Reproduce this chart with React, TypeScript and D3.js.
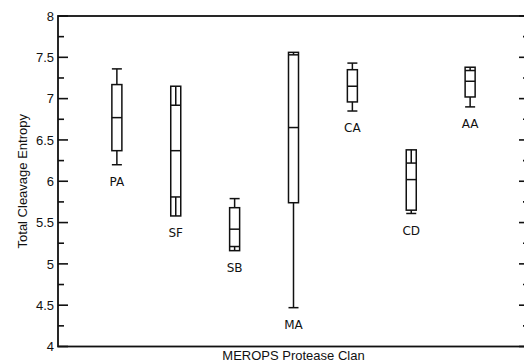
import React, { useEffect, useRef } from 'react';
import * as d3 from 'd3';

// protease clans, in plot order
const clans = ['PA', 'SF', 'SB', 'MA', 'CA', 'CD', 'AA'];
// box edges, whisker ends and medians (cleavage entropy)
const boxLow = [6.37, 5.58, 5.16, 5.74, 6.96, 5.65, 7.02];
const boxHigh = [7.17, 7.15, 5.68, 7.56, 7.35, 6.38, 7.38];
const whiskerLow = [6.2, 5.81, 5.21, 4.47, 6.85, 5.61, 6.9];
const whiskerHigh = [7.36, 6.92, 5.79, 7.53, 7.43, 6.22, 7.34];
const medians = [6.77, 6.37, 5.42, 6.65, 7.15, 6.02, 7.21];
const majorTicks = [4, 4.5, 5, 5.5, 6, 6.5, 7, 7.5, 8];

function App() {
  const ref = useRef<SVGSVGElement>(null);

  useEffect(() => {
    const svg = d3.select(ref.current);
    svg.selectAll('*').remove();

    const w = 524,
      h = 362;
    const x = d3.scaleLinear().domain([-1, 7]).range([58, 529]);
    const y = d3.scaleLinear().domain([4, 8]).range([346.5, 16]);
    const half = x(0.085) - x(0);
    const ink = '#111';

    // frame
    svg.append('rect')
      .attr('x', x(-1))
      .attr('y', y(8))
      .attr('width', x(7) - x(-1))
      .attr('height', y(4) - y(8))
      .attr('fill', 'none')
      .attr('stroke', ink)
      .attr('stroke-width', 1.8);

    // ticks, major and minor, on both sides
    const minor = d3.range(4.25, 8, 0.5);
    const g = svg.append('g').attr('stroke', ink).attr('stroke-width', 1.6);
    majorTicks.forEach((t) => {
      g.append('line').attr('x1', x(-1)).attr('x2', x(-1) + 10).attr('y1', y(t)).attr('y2', y(t));
      g.append('line').attr('x1', x(7)).attr('x2', x(7) - 10).attr('y1', y(t)).attr('y2', y(t));
    });
    minor.forEach((t) => {
      g.append('line').attr('x1', x(-1)).attr('x2', x(-1) + 6).attr('y1', y(t)).attr('y2', y(t));
      g.append('line').attr('x1', x(7)).attr('x2', x(7) - 6).attr('y1', y(t)).attr('y2', y(t));
    });

    svg.append('g')
      .selectAll('text')
      .data(majorTicks)
      .enter()
      .append('text')
      .attr('x', x(-1) - 4)
      .attr('y', (d) => y(d))
      .attr('dy', '0.36em')
      .attr('text-anchor', 'end')
      .attr('font-family', 'Liberation Sans, Arial, sans-serif')
      .attr('font-size', 13)
      .attr('fill', ink)
      .text((d) => String(d));

    // axis titles
    svg.append('text')
      .attr('x', (x(-1) + x(7)) / 2)
      .attr('y', 360)
      .attr('text-anchor', 'middle')
      .attr('font-family', 'Liberation Sans, Arial, sans-serif')
      .attr('font-size', 13)
      .attr('fill', ink)
      .text('MEROPS Protease Clan');

    svg.append('text')
      .attr('transform', `translate(27,${(y(4) + y(8)) / 2}) rotate(-90)`)
      .attr('text-anchor', 'middle')
      .attr('font-family', 'Liberation Sans, Arial, sans-serif')
      .attr('font-size', 13)
      .attr('fill', ink)
      .text('Total Cleavage Entropy');

    // boxes
    const boxes = svg.append('g')
      .attr('stroke', ink)
      .attr('stroke-width', 1.5)
      .attr('fill', 'none');

    clans.forEach((c, i) => {
      const cx = x(i);
      const hiBox = Math.max(boxLow[i], boxHigh[i]);
      const loBox = Math.min(boxLow[i], boxHigh[i]);
      boxes.append('rect')
        .attr('x', cx - half)
        .attr('y', y(hiBox))
        .attr('width', half * 2)
        .attr('height', y(loBox) - y(hiBox));
      // whiskers: line from box edge to end, capped with a box-wide bar
      boxes.append('line').attr('x1', cx).attr('x2', cx).attr('y1', y(boxHigh[i])).attr('y2', y(whiskerHigh[i]));
      boxes.append('line').attr('x1', cx).attr('x2', cx).attr('y1', y(boxLow[i])).attr('y2', y(whiskerLow[i]));
      boxes.append('line').attr('x1', cx - half).attr('x2', cx + half).attr('y1', y(whiskerHigh[i])).attr('y2', y(whiskerHigh[i]));
      boxes.append('line').attr('x1', cx - half).attr('x2', cx + half).attr('y1', y(whiskerLow[i])).attr('y2', y(whiskerLow[i]));
      boxes.append('line').attr('x1', cx - half).attr('x2', cx + half).attr('y1', y(medians[i])).attr('y2', y(medians[i]));

      const bottom = Math.min(loBox, whiskerLow[i]);
      svg.append('text')
        .attr('x', cx)
        .attr('y', y(bottom) + 17)
        .attr('dy', '0.36em')
        .attr('text-anchor', 'middle')
        .attr('font-family', 'DejaVu Sans, sans-serif')
        .attr('font-size', 12)
        .attr('fill', ink)
        .text(c);
    });

    svg.attr('width', w).attr('height', h);
  }, []);

  return (
    <svg
      ref={ref}
      width={524}
      height={362}
      style={{ position: 'absolute', left: 0, top: 0, background: '#fff' }}
    ></svg>
  );
}

export default App;
